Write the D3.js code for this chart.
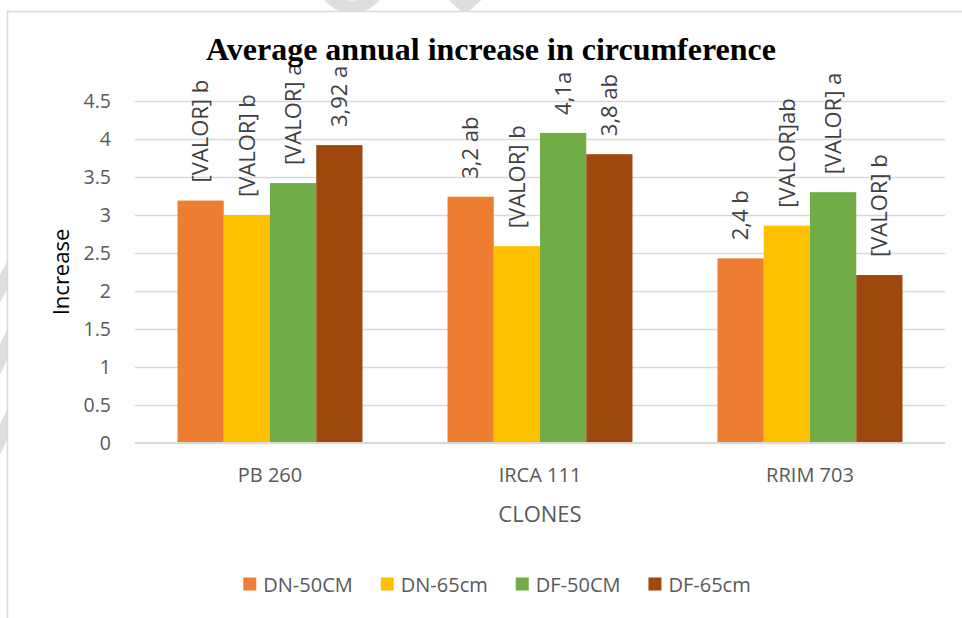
<!DOCTYPE html>
<html>
<head>
<meta charset="utf-8">
<script src="https://cdn.jsdelivr.net/npm/d3@7"></script>
<style>
  body { margin:0; background:#fff; }
  text { font-family:"Open Sans", sans-serif; fill:#595959; }
</style>
</head>
<body>
<div id="chart"></div>
<script>
var clones=['PB 260','IRCA 111','RRIM 703'];
var series=['DN-50CM','DN-65cm','DF-50CM','DF-65cm'];
var colors=['#ED7D31','#FFC000','#70AD47','#9E480E'];
// values per clone, in series order
var values=[
  [3.19,3.0,3.42,3.92],
  [3.24,2.59,4.08,3.8],
  [2.43,2.86,3.3,2.21]
];
var labels=[
  ['[VALOR] b','[VALOR] b','[VALOR] a','3,92 a'],
  ['3,2 ab','[VALOR] b','4,1a','3,8 ab'],
  ['2,4 b','[VALOR]ab','[VALOR] a','[VALOR] b']
];
var yTicks=[0,0.5,1,1.5,2,2.5,3,3.5,4,4.5];

var width=962, height=618;
var plotLeft=135, plotRight=945, plotTop=101, plotBottom=443;
var grid='#d9d9d9';

var svg=d3.select('#chart').append('svg')
  .attr('width',width)
  .attr('height',height);

// faint watermark strokes showing round the chart frame
var wm=svg.append('g').attr('fill','none').attr('stroke','#dedede')
  .attr('stroke-width',13).attr('stroke-linecap','round').attr('stroke-linejoin','round');
wm.append('ellipse').attr('cx',352).attr('cy',-14).attr('rx',25).attr('ry',21);
wm.append('polyline').attr('points','438,-18 465,6 492,-18');
wm.append('line').attr('x1',-6).attr('y1',300).attr('x2',14).attr('y2',262);
wm.append('line').attr('x1',-6).attr('y1',372).attr('x2',14).attr('y2',330);
wm.append('line').attr('x1',-6).attr('y1',452).attr('x2',14).attr('y2',410);

// chart area
svg.append('rect')
  .attr('x',7.5).attr('y',11.5)
  .attr('width',width+20).attr('height',height+20)
  .attr('fill','#fff').attr('stroke',grid).attr('stroke-width',1.5);

var x0=d3.scaleBand().domain(clones).range([plotLeft,plotRight])
  .paddingInner(0.315).paddingOuter(0.1575);
var x1=d3.scaleBand().domain(series).range([0,x0.bandwidth()]);
var y=d3.scaleLinear().domain([0,4.5]).range([plotBottom,plotTop]);

// y axis with gridlines
var yAxis=svg.append('g')
  .attr('transform','translate('+plotLeft+',0)')
  .call(d3.axisLeft(y).tickValues(yTicks).tickSize(-(plotRight-plotLeft)).tickPadding(24)
    .tickFormat(d3.format('')));
yAxis.select('.domain').remove();
yAxis.selectAll('line').attr('stroke',grid).attr('stroke-width',1.3);
yAxis.selectAll('text').attr('font-size','19.5px').attr('font-family','"Open Sans", sans-serif')
  .style('fill','#595959');

// bars
var groups=svg.selectAll('.grp')
  .data(clones)
  .enter()
  .append('g')
  .attr('class','grp')
  .attr('transform',function(d){return 'translate('+x0(d)+',0)';});

groups.selectAll('rect')
  .data(function(d,i){
    return series.map(function(s,j){return {s:s,v:values[i][j],c:colors[j],l:labels[i][j]};});
  })
  .enter()
  .append('rect')
  .attr('x',function(d){return x1(d.s);})
  .attr('y',function(d){return y(d.v);})
  .attr('width',x1.bandwidth())
  .attr('height',function(d){return plotBottom-y(d.v);})
  .attr('fill',function(d){return d.c;});

// baseline
svg.append('line')
  .attr('x1',plotLeft).attr('x2',plotRight)
  .attr('y1',plotBottom).attr('y2',plotBottom)
  .attr('stroke',grid).attr('stroke-width',2);

// data labels, rotated
groups.selectAll('.lbl')
  .data(function(d,i){
    return series.map(function(s,j){return {s:s,v:values[i][j],l:labels[i][j]};});
  })
  .enter()
  .append('text')
  .attr('class','lbl')
  .attr('transform',function(d){
    return 'translate('+(x1(d.s)+x1.bandwidth()/2)+','+(y(d.v)-18)+') rotate(-90)';
  })
  .attr('dy','0.35em')
  .attr('font-size','22px')
  .style('fill','#404040')
  .text(function(d){return d.l;});

// category labels
svg.selectAll('.cat')
  .data(clones)
  .enter()
  .append('text')
  .attr('class','cat')
  .attr('x',function(d){return x0(d)+x0.bandwidth()/2;})
  .attr('y',482)
  .attr('text-anchor','middle')
  .attr('font-size','20px')
  .text(function(d){return d;});

// axis titles
svg.append('text')
  .attr('x',x0('IRCA 111')+x0.bandwidth()/2)
  .attr('y',521.5)
  .attr('text-anchor','middle')
  .attr('font-size','22px')
  .text('CLONES');

svg.append('text')
  .attr('transform','translate(69,'+((plotTop+plotBottom)/2)+') rotate(-90)')
  .attr('text-anchor','middle')
  .attr('font-size','22px')
  .style('fill','#000')
  .text('Increase');

// title
svg.append('text')
  .attr('x',491)
  .attr('y',60)
  .attr('text-anchor','middle')
  .attr('font-size','32px')
  .attr('font-weight','bold')
  .style('font-family','"Liberation Serif", "Times New Roman", serif')
  .style('fill','#000')
  .text('Average annual increase in circumference');

// legend
var legend=svg.append('g');
var lx=0;
series.forEach(function(s,i){
  var item=legend.append('g').attr('transform','translate('+lx+',0)');
  item.append('rect').attr('x',0).attr('y',-14).attr('width',13).attr('height',13).attr('fill',colors[i]);
  var t=item.append('text').attr('x',20).attr('y',0).attr('font-size','20px').text(s);
  lx+=20+t.node().getComputedTextLength()+28;
});
lx-=28;
legend.attr('transform','translate('+(497-lx/2)+',591.5)');
</script>
</body>
</html>
